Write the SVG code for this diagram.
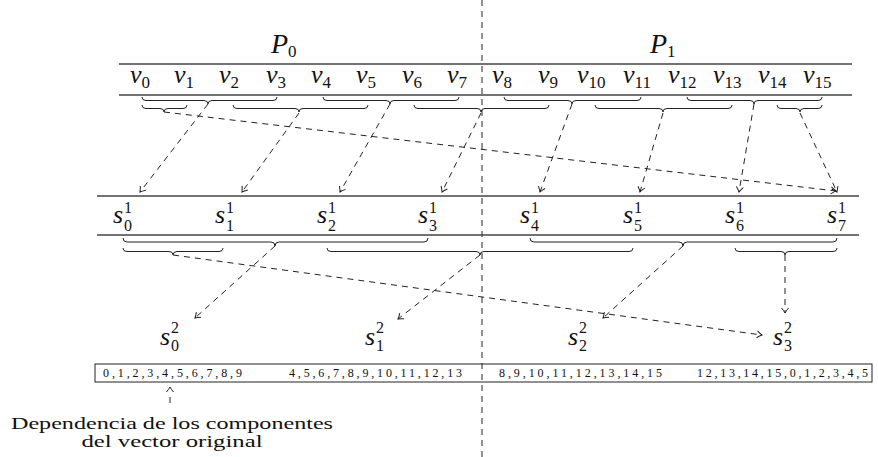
<svg xmlns="http://www.w3.org/2000/svg" width="878" height="457" viewBox="0 0 878 457">
<style>
.rule{stroke:#444;stroke-width:1.3;fill:none}
.brace{stroke:#222;stroke-width:1;fill:none}
.dash{stroke:#222;stroke-width:1;fill:none;stroke-dasharray:6 5}
text{font-family:"Liberation Serif","Times New Roman",serif;fill:#111}
.it{font-style:italic;font-size:26px}
.big{font-style:italic;font-size:28px}
.sc{font-size:17px}
.ss{font-size:16px}
.box{stroke:#222;stroke-width:1;fill:none}
.small{font-size:12px}
.txt{font-size:16px}
</style>
<defs>
<marker id="ah" markerWidth="10" markerHeight="10" refX="0" refY="0" viewBox="-6 -5 8 10" orient="auto" markerUnits="userSpaceOnUse">
<path d="M-5,-3.5 Q-2,-1 0,0 Q-2,1 -5,3.5" stroke="#222" stroke-width="1" fill="none"/>
</marker>
</defs>
<rect width="878" height="457" fill="#fff"/>

<g id="divider">
<line x1="482" y1="0" x2="482" y2="457" class="dash"/>
</g>

<g id="rules">
<line x1="119" y1="64" x2="852" y2="64" class="rule"/>
<line x1="119" y1="95" x2="852" y2="95" class="rule"/>
<line x1="97" y1="196" x2="859" y2="196" class="rule"/>
<line x1="97" y1="235" x2="859" y2="235" class="rule"/>
</g>

<g id="P0"><text x="271" y="53"><tspan class="big">P</tspan><tspan class="sc" dy="4">0</tspan></text></g>
<g id="P1"><text x="650" y="53"><tspan class="big">P</tspan><tspan class="sc" dy="4">1</tspan></text></g>

<g id="v-labels">
<text id="v0" x="130" y="83"><tspan class="it">v</tspan><tspan class="sc" dy="5">0</tspan></text>
<text id="v1" x="174" y="83"><tspan class="it">v</tspan><tspan class="sc" dy="5">1</tspan></text>
<text id="v2" x="219" y="83"><tspan class="it">v</tspan><tspan class="sc" dy="5">2</tspan></text>
<text id="v3" x="266" y="83"><tspan class="it">v</tspan><tspan class="sc" dy="5">3</tspan></text>
<text id="v4" x="311" y="83"><tspan class="it">v</tspan><tspan class="sc" dy="5">4</tspan></text>
<text id="v5" x="356" y="83"><tspan class="it">v</tspan><tspan class="sc" dy="5">5</tspan></text>
<text id="v6" x="402" y="83"><tspan class="it">v</tspan><tspan class="sc" dy="5">6</tspan></text>
<text id="v7" x="447" y="83"><tspan class="it">v</tspan><tspan class="sc" dy="5">7</tspan></text>
<text id="v8" x="492" y="83"><tspan class="it">v</tspan><tspan class="sc" dy="5">8</tspan></text>
<text id="v9" x="538" y="83"><tspan class="it">v</tspan><tspan class="sc" dy="5">9</tspan></text>
<text id="v10" x="577" y="83"><tspan class="it">v</tspan><tspan class="sc" dy="5">10</tspan></text>
<text id="v11" x="623" y="83"><tspan class="it">v</tspan><tspan class="sc" dy="5">11</tspan></text>
<text id="v12" x="668" y="83"><tspan class="it">v</tspan><tspan class="sc" dy="5">12</tspan></text>
<text id="v13" x="713" y="83"><tspan class="it">v</tspan><tspan class="sc" dy="5">13</tspan></text>
<text id="v14" x="758" y="83"><tspan class="it">v</tspan><tspan class="sc" dy="5">14</tspan></text>
<text id="v15" x="803" y="83"><tspan class="it">v</tspan><tspan class="sc" dy="5">15</tspan></text>
</g>

<g id="s1-labels">
<text id="s1_0"><tspan class="it" x="113" y="223">s</tspan><tspan class="ss" x="124" y="213">1</tspan><tspan class="ss" x="124" y="231">0</tspan></text>
<text id="s1_1"><tspan class="it" x="215" y="223">s</tspan><tspan class="ss" x="226" y="213">1</tspan><tspan class="ss" x="226" y="231">1</tspan></text>
<text id="s1_2"><tspan class="it" x="317" y="223">s</tspan><tspan class="ss" x="328" y="213">1</tspan><tspan class="ss" x="328" y="231">2</tspan></text>
<text id="s1_3"><tspan class="it" x="418" y="223">s</tspan><tspan class="ss" x="429" y="213">1</tspan><tspan class="ss" x="429" y="231">3</tspan></text>
<text id="s1_4"><tspan class="it" x="520" y="223">s</tspan><tspan class="ss" x="531" y="213">1</tspan><tspan class="ss" x="531" y="231">4</tspan></text>
<text id="s1_5"><tspan class="it" x="623" y="223">s</tspan><tspan class="ss" x="634" y="213">1</tspan><tspan class="ss" x="634" y="231">5</tspan></text>
<text id="s1_6"><tspan class="it" x="725" y="223">s</tspan><tspan class="ss" x="736" y="213">1</tspan><tspan class="ss" x="736" y="231">6</tspan></text>
<text id="s1_7"><tspan class="it" x="827" y="223">s</tspan><tspan class="ss" x="838" y="213">1</tspan><tspan class="ss" x="838" y="231">7</tspan></text>
</g>

<g id="s2-labels">
<text id="s2_0"><tspan class="it" x="160" y="345">s</tspan><tspan class="ss" x="171" y="333">2</tspan><tspan class="ss" x="171" y="351">0</tspan></text>
<text id="s2_1"><tspan class="it" x="365" y="345">s</tspan><tspan class="ss" x="376" y="333">2</tspan><tspan class="ss" x="376" y="351">1</tspan></text>
<text id="s2_2"><tspan class="it" x="568" y="345">s</tspan><tspan class="ss" x="579" y="333">2</tspan><tspan class="ss" x="579" y="351">2</tspan></text>
<text id="s2_3"><tspan class="it" x="773" y="345">s</tspan><tspan class="ss" x="784" y="333">2</tspan><tspan class="ss" x="784" y="351">3</tspan></text>
</g>

<g id="braces">
<path class="brace" d="M142,97 Q142,100.5 146,100.5 L204,100.5 Q208,100.5 208,104 Q208,100.5 212,100.5 L273,100.5 Q277,100.5 277,97"/>
<path class="brace" d="M323,97 Q323,100.5 327,100.5 L386,100.5 Q390,100.5 390,104 Q390,100.5 394,100.5 L455,100.5 Q459,100.5 459,97"/>
<path class="brace" d="M504,97 Q504,100.5 508,100.5 L568,100.5 Q572,100.5 572,104 Q572,100.5 576,100.5 L637,100.5 Q641,100.5 641,97"/>
<path class="brace" d="M687,97 Q687,100.5 691,100.5 L750,100.5 Q754,100.5 754,104 Q754,100.5 758,100.5 L818,100.5 Q822,100.5 822,97"/>
<path class="brace" d="M142,105 Q142,108.5 146,108.5 L160,108.5 Q164,108.5 164,112 Q164,108.5 168,108.5 L183,108.5 Q187,108.5 187,105"/>
<path class="brace" d="M233,105 Q233,108.5 237,108.5 L295,108.5 Q299,108.5 299,112 Q299,108.5 303,108.5 L364,108.5 Q368,108.5 368,105"/>
<path class="brace" d="M414,105 Q414,108.5 418,108.5 L477,108.5 Q481,108.5 481,112 Q481,108.5 485,108.5 L545,108.5 Q549,108.5 549,105"/>
<path class="brace" d="M595,105 Q595,108.5 599,108.5 L659,108.5 Q663,108.5 663,112 Q663,108.5 667,108.5 L728,108.5 Q732,108.5 732,105"/>
<path class="brace" d="M777,105 Q777,108.5 781,108.5 L796,108.5 Q800,108.5 800,112 Q800,108.5 804,108.5 L818,108.5 Q822,108.5 822,105"/>
<path class="brace" d="M123,238 Q123,242 127,242 L271,242 Q275,242 275,246 Q275,242 279,242 L424,242 Q428,242 428,238"/>
<path class="brace" d="M530,238 Q530,242 534,242 L679,242 Q683,242 683,246 Q683,242 687,242 L833,242 Q837,242 837,238"/>
<path class="brace" d="M123,248 Q123,251.5 127,251.5 L169,251.5 Q173,251.5 173,255 Q173,251.5 177,251.5 L219,251.5 Q223,251.5 223,248"/>
<path class="brace" d="M327,248 Q327,251.5 331,251.5 L476,251.5 Q480,251.5 480,255 Q480,251.5 484,251.5 L629,251.5 Q633,251.5 633,248"/>
<path class="brace" d="M735,248 Q735,251.5 739,251.5 L781,251.5 Q785,251.5 785,255 Q785,251.5 789,251.5 L833,251.5 Q837,251.5 837,248"/>
</g>

<g id="connectors">
<line class="dash" x1="208" y1="104" x2="140" y2="192" marker-end="url(#ah)"/>
<line class="dash" x1="164" y1="112" x2="836" y2="191" marker-end="url(#ah)"/>
<line class="dash" x1="299" y1="113" x2="242" y2="192" marker-end="url(#ah)"/>
<line class="dash" x1="390" y1="104" x2="340" y2="192" marker-end="url(#ah)"/>
<line class="dash" x1="481" y1="113" x2="442" y2="192" marker-end="url(#ah)"/>
<line class="dash" x1="572" y1="104" x2="540" y2="192" marker-end="url(#ah)"/>
<line class="dash" x1="663" y1="113" x2="640" y2="192" marker-end="url(#ah)"/>
<line class="dash" x1="754" y1="104" x2="739" y2="192" marker-end="url(#ah)"/>
<line class="dash" x1="800" y1="113" x2="837" y2="192" marker-end="url(#ah)"/>
<line class="dash" x1="275" y1="246" x2="195" y2="318" marker-end="url(#ah)"/>
<line class="dash" x1="173" y1="255" x2="762" y2="335" marker-end="url(#ah)"/>
<line class="dash" x1="480" y1="255" x2="398" y2="319" marker-end="url(#ah)"/>
<line class="dash" x1="683" y1="246" x2="603" y2="318" marker-end="url(#ah)"/>
<line class="dash" x1="785" y1="255" x2="785" y2="313" marker-end="url(#ah)"/>
<line x1="170" y1="403" x2="170" y2="387" stroke="#222" stroke-width="1" stroke-dasharray="6 10" marker-end="url(#ah)"/>
</g>

<g id="dependency-box">
<rect class="box" x="95" y="364" width="777" height="18"/>
<text class="small" x="103" y="377" textLength="139" lengthAdjust="spacing">0,1,2,3,4,5,6,7,8,9</text>
<text class="small" x="289" y="377" textLength="173" lengthAdjust="spacing">4,5,6,7,8,9,10,11,12,13</text>
<text class="small" x="499" y="377" textLength="163" lengthAdjust="spacing">8,9,10,11,12,13,14,15</text>
<text class="small" x="697" y="377" textLength="171" lengthAdjust="spacing">12,13,14,15,0,1,2,3,4,5</text>
</g>

<g id="caption">
<text class="txt" x="172" y="429" text-anchor="middle" textLength="322" lengthAdjust="spacingAndGlyphs">Dependencia de los componentes</text>
<text class="txt" x="172" y="447" text-anchor="middle" textLength="181" lengthAdjust="spacingAndGlyphs">del vector original</text>
</g>
</svg>
